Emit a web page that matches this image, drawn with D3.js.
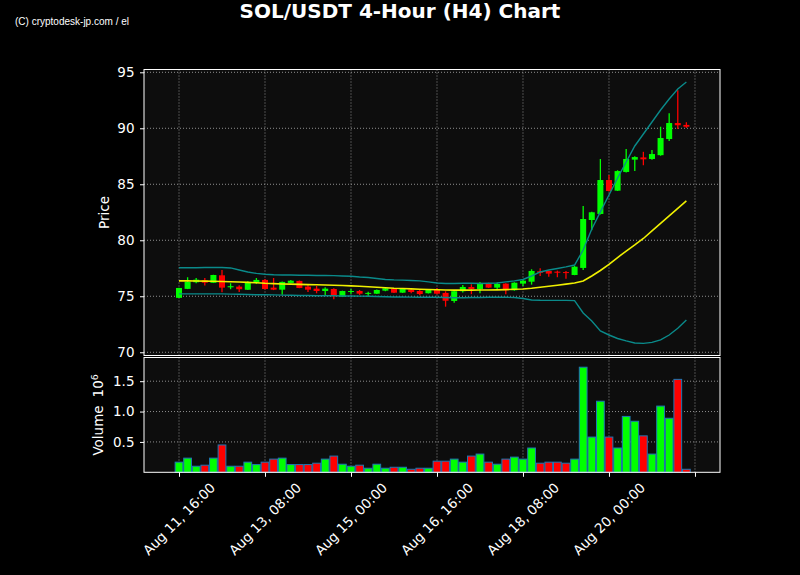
<!DOCTYPE html>
<html><head><meta charset="utf-8">
<script src="https://cdn.jsdelivr.net/npm/d3@7"></script>
<style>html,body{margin:0;padding:0;background:#000;} svg{display:block;}</style>
</head><body>
<svg id="chart" width="800" height="575"></svg>
<script>
// ---------------- DATA ----------------
const tickIndex = [0, 10, 20, 30, 40, 50, 60];
const tickLabels = ["Aug 11, 16:00", "Aug 13, 08:00", "Aug 15, 00:00", "Aug 16, 16:00", "Aug 18, 08:00", "Aug 20, 00:00", ""];
const priceTicks = [70, 75, 80, 85, 90, 95];
const volumeTicks = [0.5, 1.0, 1.5];

const open = [74.86, 75.66, 76.25, 76.43, 76.20, 76.87, 75.80, 75.86, 75.58, 76.25,
  76.46, 75.77, 75.59, 76.19, 76.37, 75.86, 75.68, 75.47, 75.65, 74.96,
  75.41, 75.47, 75.24, 75.23, 75.50, 75.65, 75.32, 75.59, 75.47, 75.27,
  75.62, 75.30, 74.58, 75.45, 75.83, 75.65, 76.16, 75.77, 76.13, 75.54,
  76.13, 76.30, 77.23, 77.26, 77.20, 77.16, 76.90, 77.53, 81.81, 82.35,
  85.38, 84.43, 86.10, 87.20, 87.40, 87.26, 87.60, 89.04, 90.47, 90.30];
const high = [75.76, 76.70, 76.63, 76.63, 76.92, 77.35, 76.16, 75.98, 76.35, 76.63,
  76.55, 76.63, 76.32, 76.46, 76.40, 76.07, 75.92, 75.80, 75.71, 75.50,
  75.65, 75.56, 75.41, 75.60, 75.77, 75.68, 75.70, 75.74, 75.62, 75.62,
  75.74, 75.45, 75.56, 76.00, 76.07, 76.28, 76.20, 76.22, 76.16, 76.25,
  76.52, 77.41, 77.50, 77.30, 77.29, 77.26, 77.70, 83.06, 82.55, 87.26,
  85.83, 86.25, 88.15, 87.50, 87.90, 88.06, 90.14, 91.34, 93.40, 90.54];
const low = [74.84, 75.64, 76.16, 75.95, 76.18, 75.36, 75.63, 75.38, 75.55, 76.10,
  75.60, 75.55, 75.14, 76.16, 75.72, 75.38, 75.27, 75.05, 74.73, 74.93,
  75.20, 75.12, 75.03, 75.20, 75.45, 75.30, 75.30, 75.27, 75.09, 75.25,
  75.18, 74.07, 74.43, 75.33, 75.18, 75.27, 75.74, 75.65, 75.18, 75.50,
  75.92, 76.04, 76.81, 76.75, 76.70, 76.57, 76.88, 77.35, 80.90, 82.30,
  84.35, 84.40, 86.05, 86.18, 86.70, 87.20, 87.55, 88.87, 89.94, 90.03];
const close = [75.74, 76.29, 76.48, 76.21, 76.90, 75.77, 75.90, 75.63, 76.23, 76.46,
  75.65, 75.59, 76.28, 76.39, 75.74, 75.59, 75.47, 75.68, 75.00, 75.47,
  75.47, 75.23, 75.30, 75.56, 75.71, 75.32, 75.65, 75.38, 75.20, 75.59,
  75.23, 74.60, 75.45, 75.83, 75.65, 76.19, 75.77, 76.10, 75.54, 76.21,
  76.39, 77.26, 77.10, 77.02, 77.10, 77.08, 77.64, 81.90, 82.50, 85.38,
  84.40, 86.18, 87.26, 87.43, 87.23, 87.70, 89.13, 90.47, 90.27, 90.14];
// volume in millions
const volume = [0.167, 0.233, 0.10, 0.117, 0.233, 0.45, 0.10, 0.10, 0.167, 0.127,
  0.167, 0.217, 0.233, 0.127, 0.127, 0.127, 0.15, 0.217, 0.267, 0.133,
  0.10, 0.117, 0.067, 0.133, 0.067, 0.083, 0.083, 0.05, 0.067, 0.067,
  0.183, 0.183, 0.217, 0.167, 0.267, 0.30, 0.167, 0.133, 0.217, 0.25,
  0.217, 0.40, 0.15, 0.167, 0.167, 0.15, 0.217, 1.73, 0.58, 1.17,
  0.58, 0.40, 0.92, 0.84, 0.60, 0.30, 1.09, 0.89, 1.53, 0.05];
const bbUpper = [77.55, 77.55, 77.55, 77.57, 77.57, 77.57, 77.53, 77.35, 77.17, 77.04,
  76.96, 76.92, 76.90, 76.90, 76.88, 76.88, 76.86, 76.86, 76.84, 76.81,
  76.79, 76.72, 76.68, 76.59, 76.50, 76.46, 76.44, 76.41, 76.37, 76.28,
  76.19, 76.14, 76.14, 76.16, 76.16, 76.14, 76.16, 76.19, 76.28, 76.37,
  76.50, 76.81, 77.17, 77.35, 77.48, 77.62, 77.79, 79.13, 81.01, 82.53,
  84.04, 85.56, 86.99, 88.42, 89.49, 90.56, 91.63, 92.62, 93.51, 94.13];
const bbMiddle = [76.37, 76.37, 76.36, 76.35, 76.34, 76.32, 76.30, 76.28, 76.24, 76.21,
  76.16, 76.13, 76.10, 76.08, 76.06, 76.04, 76.03, 76.01, 75.98, 75.96,
  75.93, 75.89, 75.85, 75.80, 75.76, 75.71, 75.69, 75.66, 75.63, 75.61,
  75.58, 75.56, 75.55, 75.55, 75.55, 75.56, 75.56, 75.57, 75.59, 75.62,
  75.65, 75.71, 75.80, 75.89, 75.98, 76.08, 76.19, 76.37, 76.81, 77.30,
  77.84, 78.46, 79.04, 79.58, 80.16, 80.83, 81.50, 82.17, 82.84, 83.51];
const bbLower = [75.21, 75.21, 75.21, 75.21, 75.21, 75.21, 75.19, 75.18, 75.16, 75.14,
  75.13, 75.12, 75.10, 75.09, 75.07, 75.07, 75.05, 75.05, 75.04, 75.03,
  75.03, 75.01, 75.00, 74.98, 74.96, 74.94, 74.94, 74.92, 74.91, 74.91,
  74.91, 74.89, 74.87, 74.87, 74.89, 74.89, 74.91, 74.91, 74.91, 74.89,
  74.80, 74.67, 74.64, 74.63, 74.63, 74.63, 74.61, 73.51, 72.79, 71.90,
  71.54, 71.23, 71.01, 70.83, 70.79, 70.88, 71.10, 71.54, 72.15, 72.87];

// ---------------- LAYOUT ----------------
const L = 144, R = 720, pT = 69.5, pB = 355.5, vT = 357.5, vB = 472.3;
const FONT = "'DejaVu Sans', sans-serif";
const UP = "#00ff00", DOWN = "#ff0000";
const GRID = "#8f8f8f";

const svg = d3.select("#chart");
svg.append("rect").attr("width", 800).attr("height", 575).attr("fill", "#000");

const x = d3.scaleLinear().domain([-4.07, 62.91]).range([L, R]);
const yP = d3.scaleLinear().domain([69.71, 95.25]).range([pB, pT]);
const yV = d3.scaleLinear().domain([0, 1.89]).range([vB, vT]);

const data = open.map((o, i) => ({i, o, h: high[i], l: low[i], c: close[i], v: volume[i]}));

// panel backgrounds
svg.append("rect").attr("x", L).attr("y", pT).attr("width", R - L).attr("height", pB - pT).attr("fill", "#0d0d0d");
svg.append("rect").attr("x", L).attr("y", vT).attr("width", R - L).attr("height", vB - vT).attr("fill", "#0d0d0d");

// grids
const grid = svg.append("g").attr("stroke", GRID).attr("stroke-width", 1).attr("stroke-dasharray", "1,2");
grid.selectAll(".gp").data(priceTicks).join("line")
  .attr("x1", L).attr("x2", R).attr("y1", d => yP(d)).attr("y2", d => yP(d));
grid.selectAll(".gv").data(volumeTicks).join("line").attr("class", "gv")
  .attr("x1", L).attr("x2", R).attr("y1", d => yV(d)).attr("y2", d => yV(d));
grid.selectAll(".gx1").data(tickIndex).join("line").attr("class", "gx1")
  .attr("x1", d => x(d)).attr("x2", d => x(d)).attr("y1", pT).attr("y2", pB);
grid.selectAll(".gx2").data(tickIndex).join("line").attr("class", "gx2")
  .attr("x1", d => x(d)).attr("x2", d => x(d)).attr("y1", vT).attr("y2", vB);

// volume bars
const bw = (x(1) - x(0)) * 0.9;
svg.append("g").selectAll("rect").data(data).join("rect")
  .attr("x", d => x(d.i) - bw / 2).attr("width", bw)
  .attr("y", d => yV(d.v)).attr("height", d => yV(0) - yV(d.v))
  .attr("fill", d => d.c >= d.o ? UP : DOWN)
  .attr("stroke", "#1f77b4").attr("stroke-width", 1);

// candles
const cw = (x(1) - x(0)) * 0.7;
const cg = svg.append("g");
cg.selectAll("line").data(data).join("line")
  .attr("x1", d => x(d.i)).attr("x2", d => x(d.i))
  .attr("y1", d => yP(d.h)).attr("y2", d => yP(d.l))
  .attr("stroke", d => d.c >= d.o ? UP : DOWN).attr("stroke-width", 1.3);
cg.selectAll("rect").data(data).join("rect")
  .attr("x", d => x(d.i) - cw / 2).attr("width", cw)
  .attr("y", d => yP(Math.max(d.o, d.c)))
  .attr("height", d => Math.max(1, Math.abs(yP(d.o) - yP(d.c))))
  .attr("fill", d => d.c >= d.o ? UP : DOWN);

// bollinger lines
const line = d3.line().x((d, i) => x(i)).y(d => yP(d));
svg.append("path").attr("d", line(bbUpper)).attr("fill", "none").attr("stroke", "#0a8a8a").attr("stroke-width", 1.4);
svg.append("path").attr("d", line(bbLower)).attr("fill", "none").attr("stroke", "#0a8a8a").attr("stroke-width", 1.4);
svg.append("path").attr("d", line(bbMiddle)).attr("fill", "none").attr("stroke", "#f0f000").attr("stroke-width", 1.6);

// frames
svg.append("rect").attr("x", L).attr("y", pT).attr("width", R - L).attr("height", pB - pT)
  .attr("fill", "none").attr("stroke", "#fff").attr("stroke-width", 1);
svg.append("rect").attr("x", L).attr("y", vT).attr("width", R - L).attr("height", vB - vT)
  .attr("fill", "none").attr("stroke", "#fff").attr("stroke-width", 1);

// axes
function styleAxis(g) {
  g.select(".domain").remove();
  g.selectAll(".tick line").attr("stroke", "#fff").attr("stroke-width", 1);
  g.selectAll(".tick text").attr("fill", "#fff").style("font-family", FONT).style("font-size", "13.5px");
}
svg.append("g").attr("transform", `translate(${L},0)`)
  .call(d3.axisLeft(yP).tickValues(priceTicks).tickSize(4).tickPadding(5.5).tickFormat(d3.format("d")))
  .call(styleAxis);
svg.append("g").attr("transform", `translate(${L},0)`)
  .call(d3.axisLeft(yV).tickValues(volumeTicks).tickSize(4).tickPadding(5.5).tickFormat(d3.format(".1f")))
  .call(styleAxis);
svg.append("g").attr("transform", `translate(0,${vB})`)
  .call(d3.axisBottom(x).tickValues(tickIndex).tickSize(4.5).tickFormat(""))
  .call(styleAxis);

// rotated x labels
svg.append("g").selectAll("text").data(tickIndex.map((t, k) => ({t, s: tickLabels[k]}))).join("text")
  .attr("transform", d => `translate(${x(d.t)},519) rotate(-45)`)
  .attr("text-anchor", "middle").attr("dy", "0.35em")
  .attr("fill", "#fff").style("font-family", FONT).style("font-size", "13.5px")
  .text(d => d.s);

// y labels
svg.append("text").attr("transform", `translate(104,${(pT + pB) / 2}) rotate(-90)`)
  .attr("text-anchor", "middle").attr("dy", "0.35em")
  .attr("fill", "#fff").style("font-family", FONT).style("font-size", "13.5px").text("Price");
const vl = svg.append("text").attr("transform", `translate(98,${(vT + vB) / 2}) rotate(-90)`)
  .attr("text-anchor", "middle").attr("dy", "0.35em")
  .attr("fill", "#fff").style("font-family", FONT).style("font-size", "13.5px");
vl.append("tspan").text("Volume");
vl.append("tspan").attr("dx", 8).text("10");
vl.append("tspan").attr("dy", -5).style("font-size", "9.5px").text("6");

// title + watermark
svg.append("text").attr("x", 400).attr("y", 18).attr("text-anchor", "middle")
  .attr("fill", "#fff").style("font-family", FONT).style("font-size", "20px").style("font-weight", "bold")
  .text("SOL/USDT 4-Hour (H4) Chart");
svg.append("text").attr("x", 15).attr("y", 25)
  .attr("textLength", 114).attr("lengthAdjust", "spacingAndGlyphs")
  .attr("fill", "#fff").style("font-family", "'Liberation Sans', Arial, sans-serif").style("font-size", "11px")
  .text("(C) cryptodesk-jp.com / el");
</script>
</body></html>
